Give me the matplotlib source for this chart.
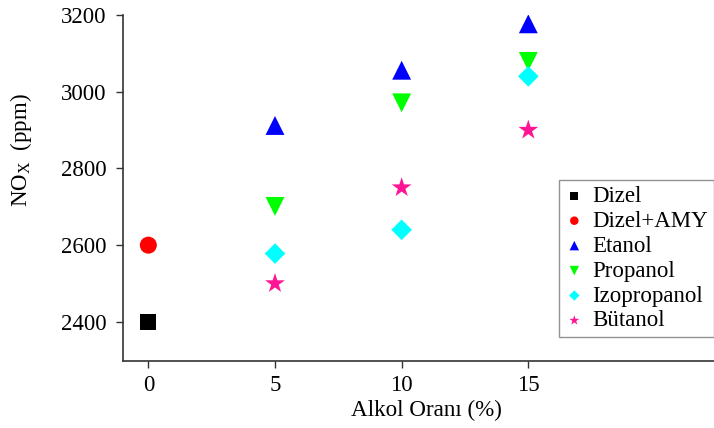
import matplotlib
matplotlib.use("Agg")
import matplotlib.pyplot as plt

plt.rcParams['font.family'] = ['Liberation Serif', 'DejaVu Serif']
plt.rcParams['mathtext.fontset'] = 'custom'
plt.rcParams['mathtext.rm'] = 'Liberation Serif'

series_names = ['Dizel', 'Dizel+AMY', 'Etanol', 'Propanol', 'Izopropanol', 'Bütanol']
x_dizel = [0]
y_dizel = [2400]
x_amy = [0]
y_amy = [2600]
x_alc = [5, 10, 15]
y_etanol = [2912, 3056, 3177]
y_propanol = [2701, 2971, 3079]
y_izopropanol = [2578, 2640, 3040]
y_butanol = [2500, 2750, 2900]
x_ticks = [0, 5, 10, 15]
y_ticks = [2400, 2600, 2800, 3000, 3200]

colors = ['#000000', '#ff0000', '#0000ff', '#00ff00', '#00ffff', '#ff1493']
markers = ['s', 'o', '^', 'v', 'D', '*']
sizes = [128, 150, 185, 185, 110, 225]

fig = plt.figure(figsize=(7.14, 4.28), dpi=100)
ax = fig.add_axes([123/714, (428-361)/428, (714-123)/714, (361-15)/428])

data = [(x_dizel, y_dizel), (x_amy, y_amy), (x_alc, y_etanol), (x_alc, y_propanol),
        (x_alc, y_izopropanol), (x_alc, y_butanol)]
for (xs, ys), name, c, m, s in zip(data, series_names, colors, markers, sizes):
    ax.scatter(xs, ys, c=c, marker=m, s=s, label=name, edgecolors='none')

ax.set_xlim(-1.0, 22.33)
ax.set_ylim(2298, 3200)
ax.set_xticks(x_ticks)
ax.set_yticks(y_ticks)
ax.tick_params(labelsize=16.5, direction='out', length=5, width=1, colors='#333333',
               labelcolor='black')
ax.tick_params(axis='y', pad=7)
ax.tick_params(axis='x', pad=5)
for s in ['top', 'right']:
    ax.spines[s].set_visible(False)
for s in ['left', 'bottom']:
    ax.spines[s].set_color('#333333')
    ax.spines[s].set_linewidth(1.2)

ax.set_xlabel('Alkol Oranı (%)', fontsize=16.7)
ax.xaxis.set_label_coords((426-123)/591, -(400-361)/346)
ax.set_ylabel(r'NO$_\mathregular{X}$  (ppm)', fontsize=16.5)
ax.yaxis.set_label_coords((34-123)/591, (361-150)/346)

leg = ax.legend(loc='upper right', bbox_to_anchor=(1.0, (361-180)/346), borderaxespad=0,
                fontsize=16.5, markerscale=0.5, frameon=True, fancybox=False,
                handletextpad=0.4, handlelength=0.8, labelspacing=0.17, borderpad=0.25)
leg.get_frame().set_edgecolor('#777777')
leg.get_frame().set_linewidth(1.0)

fig.savefig('out.png', dpi=100)
